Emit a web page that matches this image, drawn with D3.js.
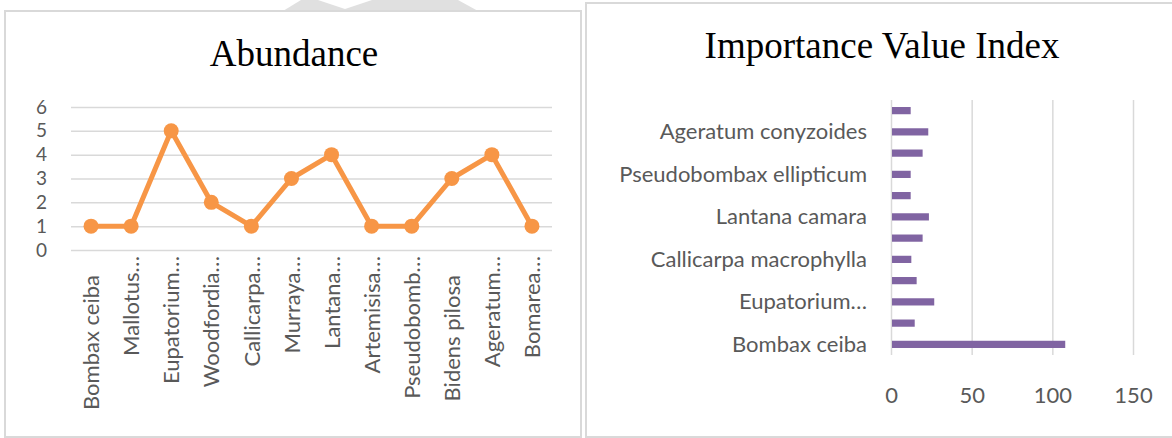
<!DOCTYPE html>
<html>
<head>
<meta charset="utf-8">
<script src="https://cdn.jsdelivr.net/npm/d3@7"></script>
<style>
  body { margin: 0; background: #fff; }
  svg { display: block; }
  .tick text { font-family: Lato, sans-serif; font-size: 22px; fill: #595959; }
  .grid .tick line { stroke: #d9d9d9; stroke-width: 1.5; }
  .title { font-family: "Liberation Serif", "Times New Roman", serif; font-size: 37px; fill: #000; }
</style>
</head>
<body>
<div id="viz"></div>
<script>
// abundance line chart
const species = ['Bombax ceiba', 'Mallotus…', 'Eupatorium…', 'Woodfordia…', 'Callicarpa…', 'Murraya…',
                 'Lantana…', 'Artemisisa…', 'Pseudobomb…', 'Bidens pilosa', 'Ageratum…', 'Bomarea…'];
const abundance = [1, 1, 5, 2, 1, 3, 4, 1, 1, 3, 4, 1];
const abundanceTicks = [0, 1, 2, 3, 4, 5, 6];

// IVI bar chart (bottom to top), only every other label is shown
const iviLabels = ['Bombax ceiba', '', 'Eupatorium…', '', 'Callicarpa macrophylla', '', 'Lantana camara', '',
                   'Pseudobombax ellipticum', '', 'Ageratum conyzoides', ''];
const ivi = [108, 14.7, 26.8, 15.9, 12.6, 19.6, 23.5, 12.2, 12.2, 19.6, 23.1, 12.2];
const iviTicks = [0, 50, 100, 150];

const width = 1172;
const height = 438;

const svg = d3.select('#viz')
              .append('svg')
              .attr('width', width)
              .attr('height', height);

// faint watermark bits along the top edge
svg.append('polygon')
   .attr('points', '283,11 301,0 458,0 478,11')
   .attr('fill', '#e0e0e0');
svg.append('polygon')
   .attr('points', '318,0 372,0 345,9')
   .attr('fill', '#fff');

// chart frames
svg.append('rect')
   .attr('x', 5).attr('y', 11)
   .attr('width', 576).attr('height', 426)
   .attr('fill', '#fff')
   .attr('stroke', '#d9d9d9')
   .attr('stroke-width', 2);

svg.append('rect')
   .attr('x', 586).attr('y', 3)
   .attr('width', 600).attr('height', 434)
   .attr('fill', '#fff')
   .attr('stroke', '#d9d9d9')
   .attr('stroke-width', 2);

// ---------- Abundance ----------
const left = { x0: 71, x1: 552, top: 107, bottom: 250 };

const xPoint = d3.scalePoint()
                 .domain(species)
                 .range([left.x0, left.x1])
                 .padding(0.5);

const yAbund = d3.scaleLinear()
                 .domain([0, 6])
                 .range([left.bottom, left.top]);

svg.append('text')
   .attr('class', 'title')
   .attr('x', 294).attr('y', 66)
   .attr('text-anchor', 'middle')
   .text('Abundance');

const yAxisL = svg.append('g')
                  .attr('class', 'grid')
                  .attr('transform', `translate(${left.x0}, 0)`)
                  .call(d3.axisLeft(yAbund)
                          .tickValues(abundanceTicks)
                          .tickFormat(d3.format('d'))
                          .tickSize(-(left.x1 - left.x0))
                          .tickPadding(24));
yAxisL.select('.domain').remove();
yAxisL.selectAll('text').style('font-size', '19px');

const xAxisL = svg.append('g')
                  .attr('transform', `translate(0, ${left.bottom})`)
                  .call(d3.axisBottom(xPoint).tickSize(0));
xAxisL.select('.domain').remove();
// truncated labels run up to the axis, full ones sit a little lower
xAxisL.selectAll('text')
      .attr('transform', 'rotate(-90)')
      .attr('text-anchor', 'end')
      .attr('x', (d) => d.endsWith('…') ? -6 : -25)
      .attr('y', 0)
      .attr('dy', '0.35em');

const line = d3.line()
               .x((d, i) => xPoint(species[i]))
               .y((d) => yAbund(d));

svg.append('path')
   .datum(abundance)
   .attr('d', line)
   .attr('fill', 'none')
   .attr('stroke', '#F79646')
   .attr('stroke-width', 5)
   .attr('stroke-linejoin', 'round');

svg.append('g')
   .selectAll('circle').data(abundance)
   .enter().append('circle')
     .attr('cx', (d, i) => xPoint(species[i]))
     .attr('cy', (d) => yAbund(d))
     .attr('r', 7.5)
     .attr('fill', '#F79646');

// ---------- Importance Value Index ----------
const right = { x0: 891, x1: 1133, top: 100, bottom: 355 };

const xIvi = d3.scaleLinear()
               .domain([0, 150])
               .range([right.x0, right.x1]);

const yIvi = d3.scaleBand()
               .domain(d3.range(ivi.length))
               .range([right.bottom, right.top])
               .paddingInner(0.66)
               .paddingOuter(0.33);

svg.append('text')
   .attr('class', 'title')
   .attr('x', 882).attr('y', 58)
   .attr('text-anchor', 'middle')
   .text('Importance Value Index');

const xAxisR = svg.append('g')
                  .attr('class', 'grid')
                  .attr('transform', `translate(0, ${right.bottom})`)
                  .call(d3.axisBottom(xIvi)
                          .tickValues(iviTicks)
                          .tickSize(-(right.bottom - right.top))
                          .tickPadding(32));
xAxisR.select('.domain').remove();

svg.append('g')
   .selectAll('rect').data(ivi)
   .enter().append('rect')
     .attr('x', xIvi(0) + 1)
     .attr('y', (d, i) => yIvi(i))
     .attr('width', (d) => xIvi(d) - xIvi(0) - 1)
     .attr('height', yIvi.bandwidth())
     .attr('fill', '#8064A2');

const yAxisR = svg.append('g')
                  .attr('transform', `translate(${right.x0}, 0)`)
                  .call(d3.axisLeft(yIvi)
                          .tickSize(0)
                          .tickPadding(24)
                          .tickFormat((i) => iviLabels[i]));
yAxisR.select('.domain').remove();
yAxisR.selectAll('text').attr('dy', '0.34em');
</script>
</body>
</html>
